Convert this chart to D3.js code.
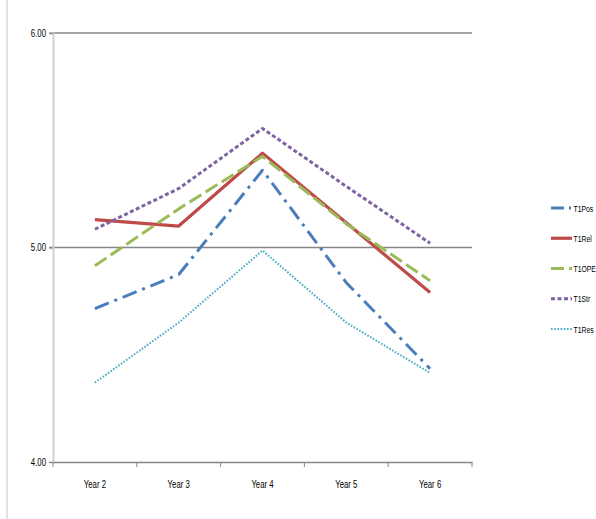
<!DOCTYPE html>
<html><head><meta charset="utf-8">
<script src="https://cdn.jsdelivr.net/npm/d3@7"></script>
<style>body{margin:0;background:#fff}svg{display:block}text{font-family:"Liberation Sans","Arial",sans-serif;font-size:10px;fill:#000}</style>
</head><body><svg id="c" width="596" height="519"></svg>
<script>
const categories = ["Year 2","Year 3","Year 4","Year 5","Year 6"];
const yTicks = [4, 5, 6];
const seriesNames = ["T1Pos","T1Rel","T1OPE","T1Str","T1Res"];
const T1Pos = [4.715, 4.874, 5.36, 4.836, 4.435];
const T1Rel = [5.13, 5.10, 5.44, 5.115, 4.79];
const T1OPE = [4.915, 5.18, 5.425, 5.11, 4.845];
const T1Str = [5.085, 5.275, 5.555, 5.285, 5.02];
const T1Res = [4.37, 4.65, 4.986, 4.65, 4.415];
const seriesValues = [T1Pos, T1Rel, T1OPE, T1Str, T1Res];
const colors = ["#4A7EBB","#BE4B48","#9BBB59","#8064A2","#4BACC6"];

(function(){
const svg = d3.select("#c");
const mLeft = 53, mRight = 472, mTop = 33, mBottom = 462;
const x = d3.scaleBand().domain(categories).range([mLeft, mRight]);
const y = d3.scaleLinear().domain([4, 6]).range([mBottom, mTop]);
const squeeze = "scale(0.78,1)";

// outer chart border (left edge)
svg.append("line").attr("x1",7).attr("x2",7).attr("y1",0).attr("y2",519)
  .attr("stroke","#d9d9d9").attr("stroke-width",1.5);

// gridlines
svg.append("g").selectAll("line").data(yTicks.filter(d=>d>4)).join("line")
  .attr("x1",mLeft-4).attr("x2",mRight).attr("y1",d=>y(d)).attr("y2",d=>y(d))
  .attr("stroke","#868686").attr("stroke-width",1.3);

// y axis
const yAxis = svg.append("g").attr("transform",`translate(${mLeft},0)`)
  .call(d3.axisLeft(y).tickValues(yTicks).tickFormat(d3.format(".2f")).tickSize(4).tickPadding(0));
yAxis.select(".domain").attr("stroke","#d0d0d0").attr("stroke-width",2);
yAxis.selectAll(".tick line").attr("stroke","#868686");
yAxis.selectAll("text").attr("font-size",null).attr("font-family",null)
  .attr("x",-9).attr("transform",squeeze);

// x axis
const xAxis = svg.append("g").attr("transform",`translate(0,${mBottom})`)
  .call(d3.axisBottom(x).tickSize(0).tickPadding(19));
xAxis.select(".domain").attr("stroke","#868686").attr("stroke-width",1.3);
xAxis.selectAll("text").attr("font-size",null).attr("font-family",null).attr("transform",squeeze);
const bounds = categories.map(c=>x(c)).concat([mRight]);
svg.append("g").selectAll("line").data(bounds).join("line")
  .attr("x1",d=>d).attr("x2",d=>d).attr("y1",mBottom).attr("y2",mBottom+5)
  .attr("stroke","#868686").attr("stroke-width",1);

const styles = [
  {w:3, dash:"15,6,3,6", cap:"butt"},
  {w:3.2, dash:null, cap:"butt"},
  {w:3, dash:"14,5", cap:"butt"},
  {w:3, dash:"4,2.5", cap:"butt"},
  {w:2, dash:"1.6,1.6", cap:"butt"}
];

const line = d3.line().x((d,i)=>x(categories[i])+x.bandwidth()/2).y(d=>y(d));
svg.append("g").selectAll("path").data(seriesValues).join("path")
  .attr("d",d=>line(d)).attr("fill","none")
  .attr("stroke",(d,i)=>colors[i])
  .attr("stroke-width",(d,i)=>styles[i].w)
  .attr("stroke-dasharray",(d,i)=>styles[i].dash)
  .attr("stroke-linecap",(d,i)=>styles[i].cap)
  .attr("stroke-linejoin","round");

// legend
const lg = svg.append("g").selectAll("g").data(seriesNames).join("g")
  .attr("transform",(d,i)=>`translate(551,${208+i*30.25})`);
lg.append("line").attr("x1",0).attr("x2",21).attr("y1",0).attr("y2",0)
  .attr("stroke",(d,i)=>colors[i])
  .attr("stroke-width",(d,i)=>styles[i].w)
  .attr("stroke-dasharray",(d,i)=>{
    if(i===0) return "13,5,2,5";
    if(i===2) return "13,5";
    return styles[i].dash;})
  .attr("stroke-linecap",(d,i)=>styles[i].cap);
lg.append("g").attr("transform","translate(22.5,3.5)")
  .append("text").attr("transform","scale(0.72,1)").style("font-size","9.5px").text(d=>d);
})();
</script></body></html>
